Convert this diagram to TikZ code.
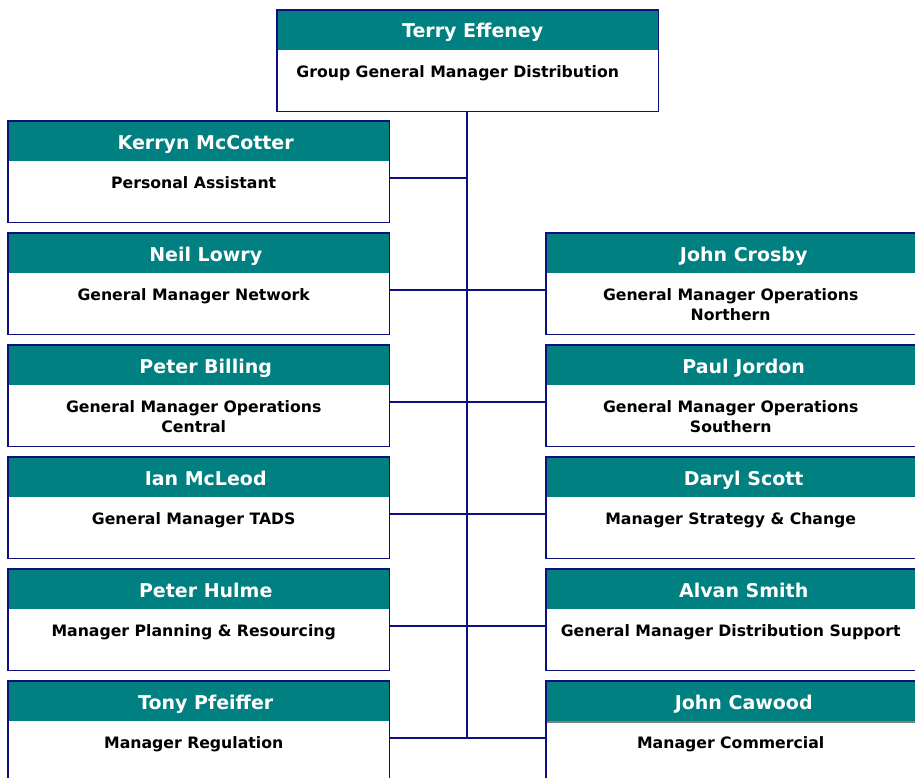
\documentclass[tikz,border=0pt]{standalone}
\usepackage{fontspec}
\setmainfont{DejaVu Sans}
\usetikzlibrary{positioning}
\definecolor{sarcelle}{RGB}{0,128,128}
\definecolor{marine}{RGB}{15,15,125}

\tikzset{
  corps/.style={fill=white,minimum width=381pt,minimum height=101pt,inner sep=0pt,anchor=north west},
  cadre/.style={draw=marine,line width=1.6pt},
  entete/.style={fill=sarcelle},
  nomtxt/.style={text=white,anchor=base,inner sep=0pt,font=\bfseries\fontsize{19}{20}\selectfont},
  titre/.style={anchor=north,align=center,inner sep=0pt,font=\bfseries\fontsize{15.7}{20}\selectfont},
  lien/.style={draw=marine,line width=1.6pt}
}

\begin{document}
\begin{tikzpicture}[x=1pt,y=-1pt]
  \useasboundingbox (0,0) rectangle (915,778);
  \clip (0,0) rectangle (915,778);

  % connectors first
  \coordinate (tronc) at (467,110);
  \foreach \yy in {121,233,345,457,569,681}{
    \coordinate (h\yy) at (389,\yy+57);
  }
  \draw[lien] (tronc) -- (tronc |- h681);
  \draw[lien] (h121) -- (h121 -| tronc);
  \foreach \yy in {233,345,457,569,681}{
    \draw[lien] (h\yy) -- ++(157,0);
  }

  % top box
  \node[corps] (terry) at (277,10) {};
  \fill[entete] (terry.north west) rectangle ([yshift=-40pt]terry.north east);
  \node[nomtxt] (terry-nom) at ([xshift=5pt,yshift=-27.5pt]terry.north) {Terry Effeney};
  \node[titre] (terry-fn) at ([xshift=-10pt,yshift=-55pt]terry.north) {Group General Manager Distribution};
  \draw[cadre] (terry.north west) rectangle (terry.south east);

  % left column
  \foreach \id/\yy/\nom/\poste in {
      kerryn/121/Kerryn McCotter/Personal Assistant,
      neil/233/Neil Lowry/General Manager Network,
      peterb/345/Peter Billing/{General Manager Operations\\Central},
      ian/457/Ian McLeod/General Manager TADS,
      peterh/569/Peter Hulme/Manager Planning \& Resourcing,
      tony/681/Tony Pfeiffer/Manager Regulation}{
    \node[corps] (\id) at (8,\yy) {};
    \fill[entete] (\id.north west) rectangle ([yshift=-40pt]\id.north east);
    \node[nomtxt] (\id-nom) at ([xshift=7pt,yshift=-28.5pt]\id.north) {\nom};
    \node[titre] (\id-fn) at ([xshift=-5pt,yshift=-55pt]\id.north) {\poste};
    \draw[cadre] (\id.north west) rectangle (\id.south east);
  }

  % right column
  \foreach \id/\yy/\nom/\poste in {
      johncr/233/John Crosby/{General Manager Operations\\Northern},
      paul/345/Paul Jordon/{General Manager Operations\\Southern},
      daryl/457/Daryl Scott/Manager Strategy \& Change,
      alvan/569/Alvan Smith/General Manager Distribution Support,
      johnca/681/John Cawood/Manager Commercial}{
    \node[corps] (\id) at (546,\yy) {};
    \fill[entete] (\id.north west) rectangle ([yshift=-40pt]\id.north east);
    \node[nomtxt] (\id-nom) at ([xshift=7pt,yshift=-28.5pt]\id.north) {\nom};
    \node[titre] (\id-fn) at ([xshift=-6pt,yshift=-55pt]\id.north) {\poste};
    \draw[cadre] (\id.north west) rectangle (\id.south east);
  }
  \draw[gray,line width=1.5pt] ([xshift=1pt,yshift=-41pt]johnca.north west) -- ([yshift=-41pt]johnca.north east);
\end{tikzpicture}
\end{document}
